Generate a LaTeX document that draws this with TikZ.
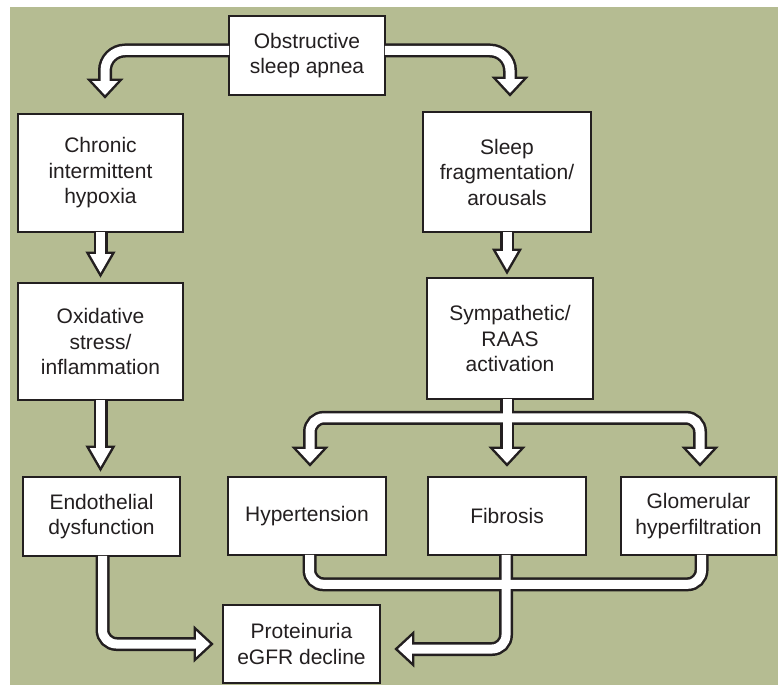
\documentclass[tikz,border=0pt]{standalone}
\usepackage{fontspec}
\setmainfont{Liberation Sans}
\usetikzlibrary{calc}

\definecolor{panel}{HTML}{B5BC92}
\definecolor{ink}{HTML}{231F20}

% two layers for the fat arrows: black outline below, white core above
\pgfdeclarelayer{outline}
\pgfdeclarelayer{core}
\pgfsetlayers{main,outline,core}

\tikzset{
  box/.style={draw=ink, fill=white, line width=2.6pt, align=center,
    inner sep=0pt, text=ink, font=\fontsize{21}{25.5}\selectfont},
  shaftout/.style={draw=ink, line width=14pt},
  shaftin/.style={draw=white, line width=9pt},
  % arrow heads, tip at the origin, pointing down the page
  pics/wideout/.style={code={\filldraw[ink, line width=5pt, line join=miter]
    (0,-3.7) -- (12.8,-17.5) -- (-12.8,-17.5) -- cycle;}},
  pics/widein/.style={code={\fill[white]
    (0,-3.7) -- (12.8,-17.5) -- (-12.8,-17.5) -- cycle;}},
  pics/narrowout/.style={code={\filldraw[ink, line width=5pt, line join=miter]
    (0,-5) -- (10.7,-23.5) -- (-10.7,-23.5) -- cycle;}},
  pics/narrowin/.style={code={\fill[white]
    (0,-5) -- (10.7,-23.5) -- (-10.7,-23.5) -- cycle;}},
}

% fat white arrow shaft with black outline
\newcommand\fatshaft[2][]{%
  \begin{pgfonlayer}{outline}\draw[shaftout,#1] #2;\end{pgfonlayer}%
  \begin{pgfonlayer}{core}\draw[shaftin,#1] #2;\end{pgfonlayer}}
% arrow head: #1 = wide/narrow, #2 = rotation, #3 = tip
\newcommand\fathead[3]{%
  \begin{pgfonlayer}{outline}\pic[rotate=#2] at #3 {#1out};\end{pgfonlayer}%
  \begin{pgfonlayer}{core}\pic[rotate=#2] at #3 {#1in};\end{pgfonlayer}}

\begin{document}
\begin{tikzpicture}[x=1pt,y=-1pt]
\useasboundingbox (0,0) rectangle (778,685);
\fill[white] (0,0) rectangle (778,685);
\fill[panel] (10,7.5) rectangle (778,685);

% boxes
\node[box, minimum width=156pt, minimum height=79pt]  (osa)  at (307,55.5)   {Obstructive\\sleep apnea};
\node[box, minimum width=165pt, minimum height=118pt] (cih)  at (100.5,173)  {Chronic\\intermittent\\hypoxia};
\node[box, minimum width=168pt, minimum height=120pt] (sfa)  at (507,172)    {Sleep\\fragmentation/\\arousals};
\node[box, minimum width=165pt, minimum height=117pt] (oxi)  at (100.5,341.5) {Oxidative\\stress/\\inflammation};
\node[box, minimum width=166pt, minimum height=121pt] (sym)  at (510,338.5)  {Sympathetic/\\RAAS\\activation};
\node[box, minimum width=157pt, minimum height=79pt]  (endo) at (101.5,516.5) {Endothelial\\dysfunction};
\node[box, minimum width=158pt, minimum height=78pt]  (hyp)  at (307,516)    {Hypertension};
\node[box, minimum width=158pt, minimum height=78pt]  (fib)  at (507,516)    {Fibrosis};
\node[box, minimum width=155pt, minimum height=78pt]  (glo)  at (698.5,516)  {Glomerular\\hyperfiltration};
\node[box, minimum width=157pt, minimum height=78pt]  (prot) at (301.5,644)  {Proteinuria\\eGFR decline};

% OSA splits to both sides
\fatshaft[rounded corners=20pt]{($(osa.west)+(1.5,-5)$) -| ($(cih.north)+(4.5,-30)$)}
\fathead{wide}{0}{($(cih.north)+(4.5,-14)$)}
\fatshaft[rounded corners=20pt]{($(osa.east)+(-1.5,-5)$) -| ($(sfa.north)+(3,-30)$)}
\fathead{wide}{0}{($(sfa.north)+(3,-14)$)}

% left column
\fatshaft{($(cih.south)+(0,-1.5)$) -- ($(oxi.north)+(0,-26)$)}
\fathead{narrow}{0}{($(oxi.north)+(0,-4)$)}
\fatshaft{($(oxi.south)+(0,-1.5)$) -- ($(endo.north)+(-1,-26)$)}
\fathead{narrow}{0}{($(endo.north)+(-1,-4)$)}

% right column
\fatshaft{($(sfa.south)+(0,-1.5)$) -- ($(sym.north)+(-3,-24)$)}
\fathead{narrow}{0}{($(sym.north)+(-3,-2)$)}

% sympathetic activation fans out
\coordinate (fork) at ($(sym.south)+(-3,17.5)$);
\fatshaft{($(sym.south)+(-3,-1.5)$) -- ($(fib.north)+(0,-25)$)}
\fathead{wide}{0}{($(fib.north)+(0,-9)$)}
\fatshaft[rounded corners=14pt]{(fork) -| ($(hyp.north)+(3,-25)$)}
\fathead{wide}{0}{($(hyp.north)+(3,-9)$)}
\fatshaft[rounded corners=14pt]{(fork) -| ($(glo.north)+(1.5,-25)$)}
\fathead{wide}{0}{($(glo.north)+(1.5,-9)$)}

% collecting bus under the bottom row
\fatshaft[rounded corners=14pt]{($(hyp.south)+(2.5,-1.5)$) |- ($(glo.south)+(3,28)$) -- ($(glo.south)+(3,-1.5)$)}
\fatshaft[rounded corners=14pt]{($(fib.south)+(-1,-1.5)$) |- ($(prot.east)+(29,5)$)}
\fathead{wide}{-90}{($(prot.east)+(13,5)$)}

% endothelial dysfunction to outcome
\fatshaft[rounded corners=14pt]{($(endo.south)+(1,-1.5)$) |- ($(prot.west)+(-24,0)$)}
\fathead{wide}{90}{($(prot.west)+(-8,0)$)}
\end{tikzpicture}
\end{document}
